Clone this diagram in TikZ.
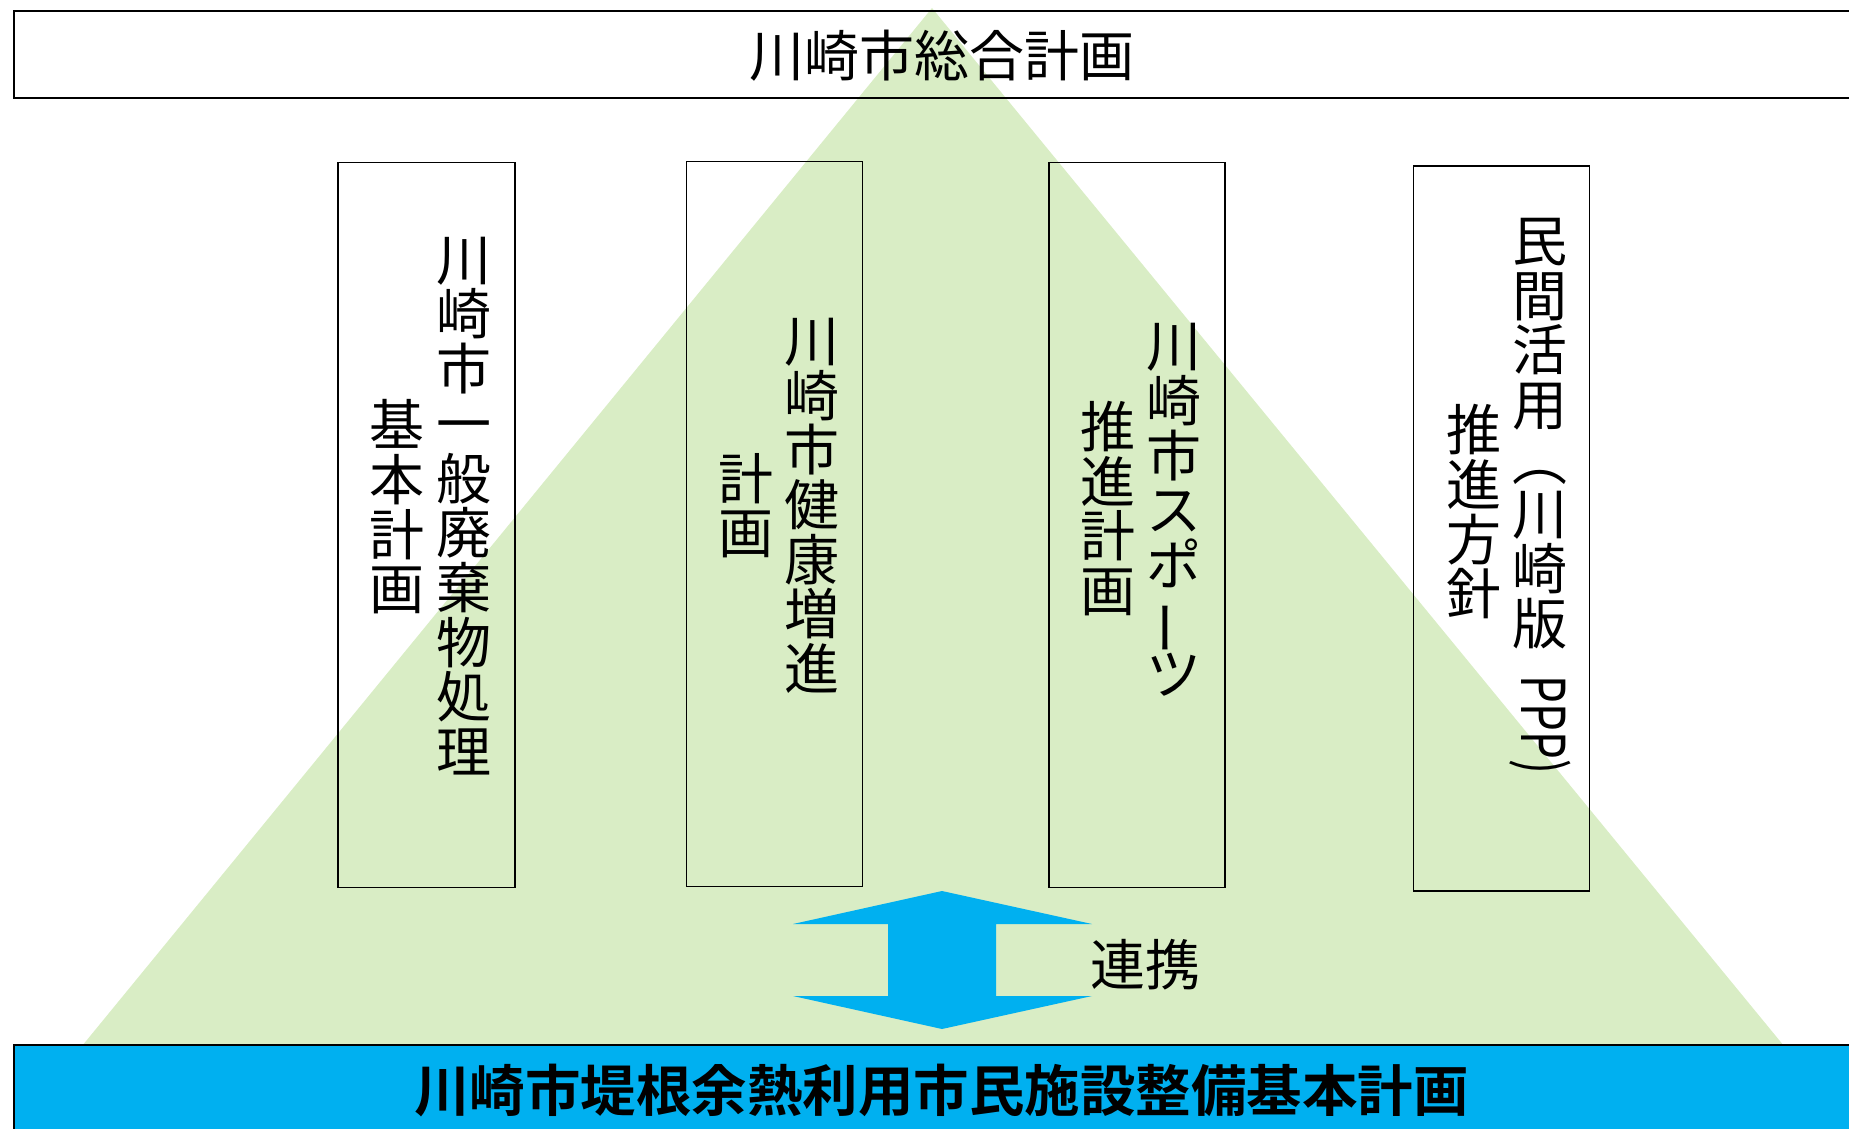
\documentclass[tikz,border=0pt]{standalone}
\usepackage{fontspec}
\setmainfont{Noto Sans CJK JP}[BoldFont={Noto Sans CJK JP Bold}]
\usepackage{graphicx}
\definecolor{trigreen}{RGB}{217,237,197}
\definecolor{cyanb}{RGB}{0,176,240}
\newcommand\vbar{\smash{\rotatebox[origin=c]{90}{ー}}}
\begin{document}
\begin{tikzpicture}[x=1pt,y=-1pt,
  plainbox/.style={draw=black,line width=1.5pt,inner sep=0pt},
  framebox/.style={draw=black,line width=2pt,inner sep=0pt},
  vcol/.style={inner sep=0pt,align=center,font=\fontsize{55}{54.7}\selectfont},
  htext/.style={inner sep=0pt,font=\fontsize{55}{66}\selectfont}]
\useasboundingbox (0,0) rectangle (1849,1129);
\clip (0,0) rectangle (1849,1129);
% green triangle
\fill[trigreen] (932,8) -- (82,1046) -- (1784,1046) -- cycle;
% top box
\node[framebox,minimum width=1846pt,minimum height=87pt] (top) at (937,54.5) {};
\node[htext] (title) at (941.5,56) {川崎市総合計画};
% plan boxes
\node[plainbox,minimum width=177pt,minimum height=725pt] (b1) at (426.5,525) {};
\node[plainbox,minimum width=176.4pt,minimum height=725pt] (b2) at (774.5,524.2) {};
\node[plainbox,minimum width=176pt,minimum height=725pt] (b3) at (1137.2,525.2) {};
\node[plainbox,minimum width=176pt,minimum height=725pt] (b4) at (1501.5,528.3) {};
% vertical texts
\node[vcol] (c1a) at (464,506) {川\\崎\\市\\一\\般\\廃\\棄\\物\\処\\理};
\node[vcol] (c1b) at (396.5,507) {基\\本\\計\\画};
\node[vcol] (c2a) at (811.7,505.8) {川\\崎\\市\\健\\康\\増\\進};
\node[vcol] (c2b) at (745.5,505.6) {計\\画};
\node[vcol] (c3a) at (1174.3,510) {川\\崎\\市\\ス\\ポ\\\vbar\\ツ};
\node[vcol] (c3b) at (1107.7,508.5) {推\\進\\計\\画};
\node[vcol] (c4a) at (1539.6,433.5) {民\\間\\活\\用\\︵\\川\\崎\\版};
\node[vcol] (c4b) at (1473.5,511.8) {推\\進\\方\\針};
\node[htext,rotate=-90] (c4p) at (1540,725) {\scalebox{0.8}[1.1]{PPP)}};
% double arrow
\fill[cyanb] (942,891) -- (1092,924) -- (996,924) -- (996,996) -- (1092,996)
  -- (942,1029) -- (793,996) -- (888,996) -- (888,924) -- (793,924) -- cycle;
\node[htext] (renkei) at (1145,965) {連携};
% bottom box
\node[framebox,fill=cyanb,minimum width=1846pt,minimum height=95pt] (bottom) at (937,1092.5) {};
\node[htext,font=\fontsize{55.5}{66}\selectfont\bfseries] (main) at (941.5,1091) {川崎市堤根余熱利用市民施設整備基本計画};
\end{tikzpicture}
\end{document}
